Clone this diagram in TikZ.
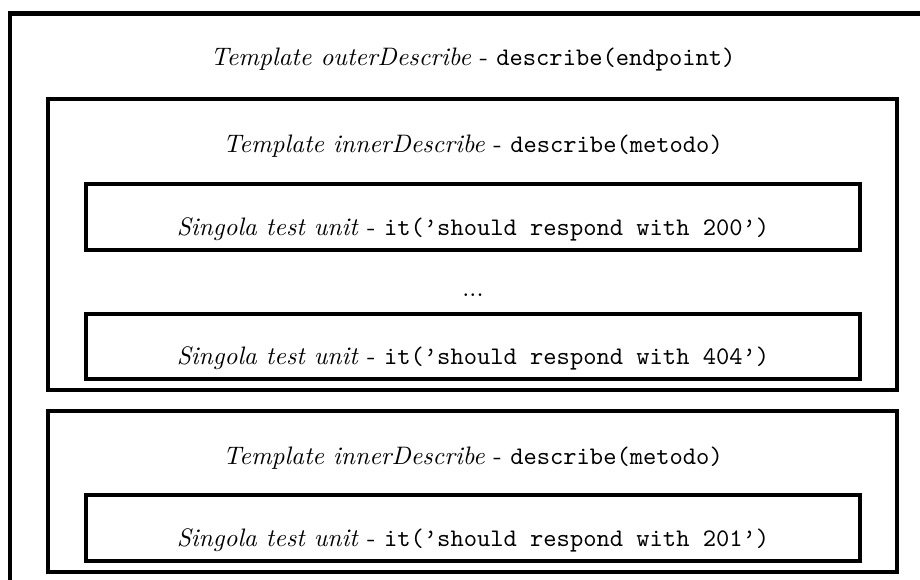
\documentclass[tikz,border=0pt]{standalone}
\begin{document}
\begin{tikzpicture}[x=0.3953pt,y=-0.3953pt,
  frame/.style={draw, line width=1.6pt},
  lbl/.style={anchor=base, inner sep=0pt, font=\normalsize}]
\useasboundingbox (0,0) rectangle (920,579);
\clip (0,0) rectangle (920,579);
% outer describe (runs off the picture at right and bottom)
\draw[frame] (10,13.5) rectangle (936,600);
\node[lbl] (outerT) at (473,65) {\textit{Template outerDescribe} - \texttt{describe(endpoint)}};
% inner describe 1
\draw[frame] (48,99) rectangle (897,390);
\node[lbl] (innerA) at (473,152) {\textit{Template innerDescribe} - \texttt{describe(metodo)}};
\draw[frame] (86,184) rectangle (860,250);
\node[lbl] (unit1) at (473,235) {\textit{Singola test unit} - \texttt{it(’should respond with 200’)}};
\node[lbl] (dots) at (473,296) {...};
\draw[frame] (86,314) rectangle (860,379);
\node[lbl] (unit2) at (473,364) {\textit{Singola test unit} - \texttt{it(’should respond with 404’)}};
% inner describe 2
\draw[frame] (48,411) rectangle (897,572);
\node[lbl] (innerB) at (473,464) {\textit{Template innerDescribe} - \texttt{describe(metodo)}};
\draw[frame] (86,495) rectangle (860,561);
\node[lbl] (unit3) at (473,546) {\textit{Singola test unit} - \texttt{it(’should respond with 201’)}};
\end{tikzpicture}
\end{document}
